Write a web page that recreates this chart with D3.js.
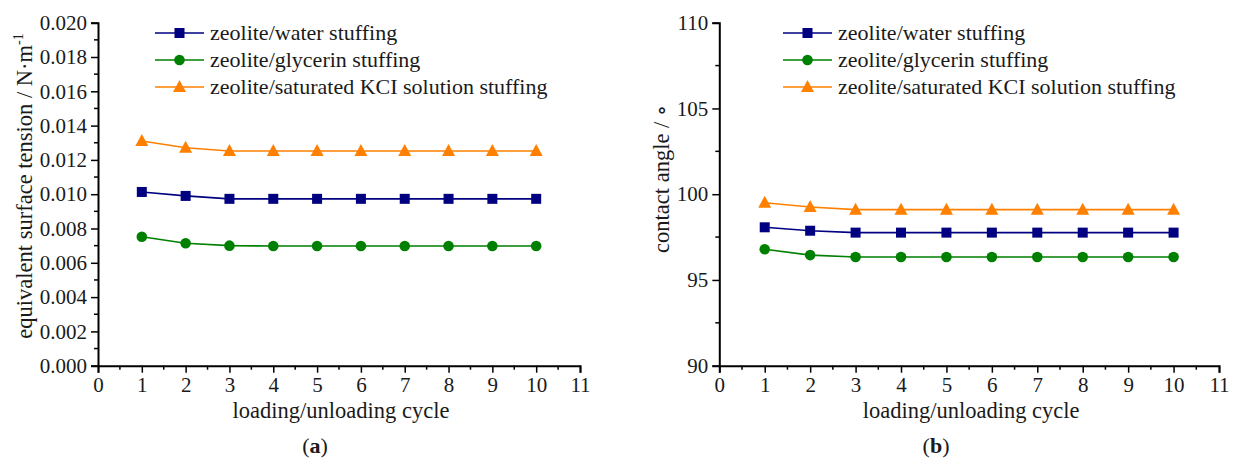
<!DOCTYPE html>
<html>
<head>
<meta charset="utf-8">
<script src="https://cdn.jsdelivr.net/npm/d3@7"></script>
<style>
  body { margin: 0; background: #fff; }
  text { font-family: "Liberation Serif", "DejaVu Serif", serif; fill: #1a1a1a; }
</style>
</head>
<body>
<div id="chart"></div>
<script>
// data
var cycles = [1,2,3,4,5,6,7,8,9,10];
var names = ["zeolite/water stuffing", "zeolite/glycerin stuffing", "zeolite/saturated KCI solution stuffing"];
var colors = ["#000080", "#008000", "#ff8000"];
var shapes = ["square", "circle", "triangle"];

var tension_water    = [0.01013,0.00990,0.00973,0.00973,0.00973,0.00973,0.00973,0.00973,0.00973,0.00973];
var tension_glycerin = [0.00752,0.00714,0.00700,0.00698,0.00698,0.00698,0.00698,0.00698,0.00698,0.00698];
var tension_kcl      = [0.01310,0.01271,0.01252,0.01252,0.01252,0.01252,0.01252,0.01252,0.01252,0.01252];

var angle_water    = [98.07,97.87,97.76,97.76,97.76,97.76,97.76,97.76,97.76,97.76];
var angle_glycerin = [96.79,96.45,96.34,96.34,96.34,96.34,96.34,96.34,96.34,96.34];
var angle_kcl      = [99.50,99.25,99.10,99.10,99.10,99.10,99.10,99.10,99.10,99.10];

var x_ticks = [0,1,2,3,4,5,6,7,8,9,10,11];
var tension_ticks = [0,0.002,0.004,0.006,0.008,0.010,0.012,0.014,0.016,0.018,0.020];
var angle_ticks = [90,95,100,105,110];

var width = 1234, height = 460;
var svg = d3.select("#chart").append("svg")
            .attr("width", width)
            .attr("height", height);

function drawPanel(opt) {
  var x = d3.scaleLinear().domain([0, 11]).range([opt.left, opt.right]);
  var y = d3.scaleLinear().domain(opt.ydomain).range([opt.bottom, opt.top]);
  var g = svg.append("g");

  // minor ticks
  var xminor = d3.range(0.5, 11, 1);
  g.selectAll(".xminor").data(xminor).enter().append("line")
   .attr("x1", function(d){ return x(d); }).attr("x2", function(d){ return x(d); })
   .attr("y1", opt.bottom).attr("y2", opt.bottom + 4)
   .attr("stroke", "#000").attr("stroke-width", 1.5);
  g.selectAll(".yminor").data(opt.yminor).enter().append("line")
   .attr("y1", function(d){ return y(d); }).attr("y2", function(d){ return y(d); })
   .attr("x1", opt.left).attr("x2", opt.left - 4)
   .attr("stroke", "#000").attr("stroke-width", 1.5);

  var xAxis = g.append("g").attr("transform", "translate(0," + opt.bottom + ")")
     .call(d3.axisBottom(x).tickValues(x_ticks).tickFormat(d3.format("d")).tickSize(7).tickPadding(4));
  var yAxis = g.append("g").attr("transform", "translate(" + opt.left + ",0)")
     .call(d3.axisLeft(y).tickValues(opt.yticks).tickFormat(opt.yformat).tickSize(7).tickPadding(4));
  [xAxis, yAxis].forEach(function(a){
    a.select(".domain").attr("stroke", "#000").attr("stroke-width", 2);
    a.selectAll(".tick line").attr("stroke", "#000").attr("stroke-width", 1.5);
    a.selectAll(".tick text").attr("font-family", "Liberation Serif, serif")
     .attr("font-size", 21).attr("fill", "#1a1a1a");
  });

  // series
  opt.series.forEach(function(vals, si) {
    var line = d3.line().x(function(d, i){ return x(cycles[i]); }).y(function(d){ return y(d); });
    g.append("path").datum(vals).attr("d", line)
     .attr("fill", "none").attr("stroke", colors[si]).attr("stroke-width", 1.6);
    drawMarkers(g, vals.map(function(v, i){ return [x(cycles[i]), y(v)]; }), si);
  });

  // legend
  names.forEach(function(n, i) {
    var ly = opt.legendY + i * 27;
    g.append("line").attr("x1", opt.legendX).attr("x2", opt.legendX + 49)
     .attr("y1", ly).attr("y2", ly).attr("stroke", colors[i]).attr("stroke-width", 1.6);
    drawMarkers(g, [[opt.legendX + 24.5, ly]], i);
    g.append("text").attr("x", opt.legendX + 55).attr("y", ly + 7)
     .attr("font-size", 22).text(n);
  });

  // axis titles
  g.append("text").attr("x", (opt.left + opt.right) / 2 + 2).attr("y", 418)
   .attr("text-anchor", "middle").attr("font-size", 22.5).text("loading/unloading cycle");
  opt.ytitle(g);

  g.append("text").attr("x", opt.captionX).attr("y", 453).attr("text-anchor", "middle")
   .attr("font-size", 22)
   .html('(<tspan font-weight="bold">' + opt.caption + '</tspan>)');
}

function drawMarkers(g, pts, si) {
  pts.forEach(function(p) {
    if (shapes[si] === "square") {
      g.append("rect").attr("x", p[0] - 5).attr("y", p[1] - 5).attr("width", 10).attr("height", 10)
       .attr("fill", colors[si]);
    } else if (shapes[si] === "circle") {
      g.append("circle").attr("cx", p[0]).attr("cy", p[1]).attr("r", 5.3).attr("fill", colors[si]);
    } else {
      g.append("path").attr("transform", "translate(" + p[0] + "," + p[1] + ")")
       .attr("d", "M0,-7L6.5,5L-6.5,5Z").attr("fill", colors[si]);
    }
  });
}

drawPanel({
  left: 98, right: 580, top: 22.7, bottom: 365.7,
  ydomain: [0, 0.020], yticks: tension_ticks, yformat: d3.format(".3f"),
  yminor: d3.range(0.001, 0.020, 0.002),
  series: [tension_water, tension_glycerin, tension_kcl],
  legendX: 155, legendY: 33, captionX: 315, caption: "a",
  ytitle: function(g) {
    var t = g.append("text").attr("transform", "translate(32,186) rotate(-90)")
      .attr("text-anchor", "middle").attr("font-size", 22.5);
    t.append("tspan").text("equivalent surface tension / N·m");
    t.append("tspan").attr("dy", -9).attr("font-size", 14).text("-1");
  }
});

drawPanel({
  left: 719.3, right: 1219, top: 22.7, bottom: 365.7,
  ydomain: [90, 110], yticks: angle_ticks, yformat: d3.format("d"),
  yminor: [92.5, 97.5, 102.5, 107.5],
  series: [angle_water, angle_glycerin, angle_kcl],
  legendX: 783, legendY: 33, captionX: 936, caption: "b",
  ytitle: function(g) {
    g.append("text").attr("transform", "translate(669,179) rotate(-90)")
      .attr("text-anchor", "middle").attr("font-size", 22.5).text("contact angle / ∘");
  }
});
</script>
</body>
</html>
